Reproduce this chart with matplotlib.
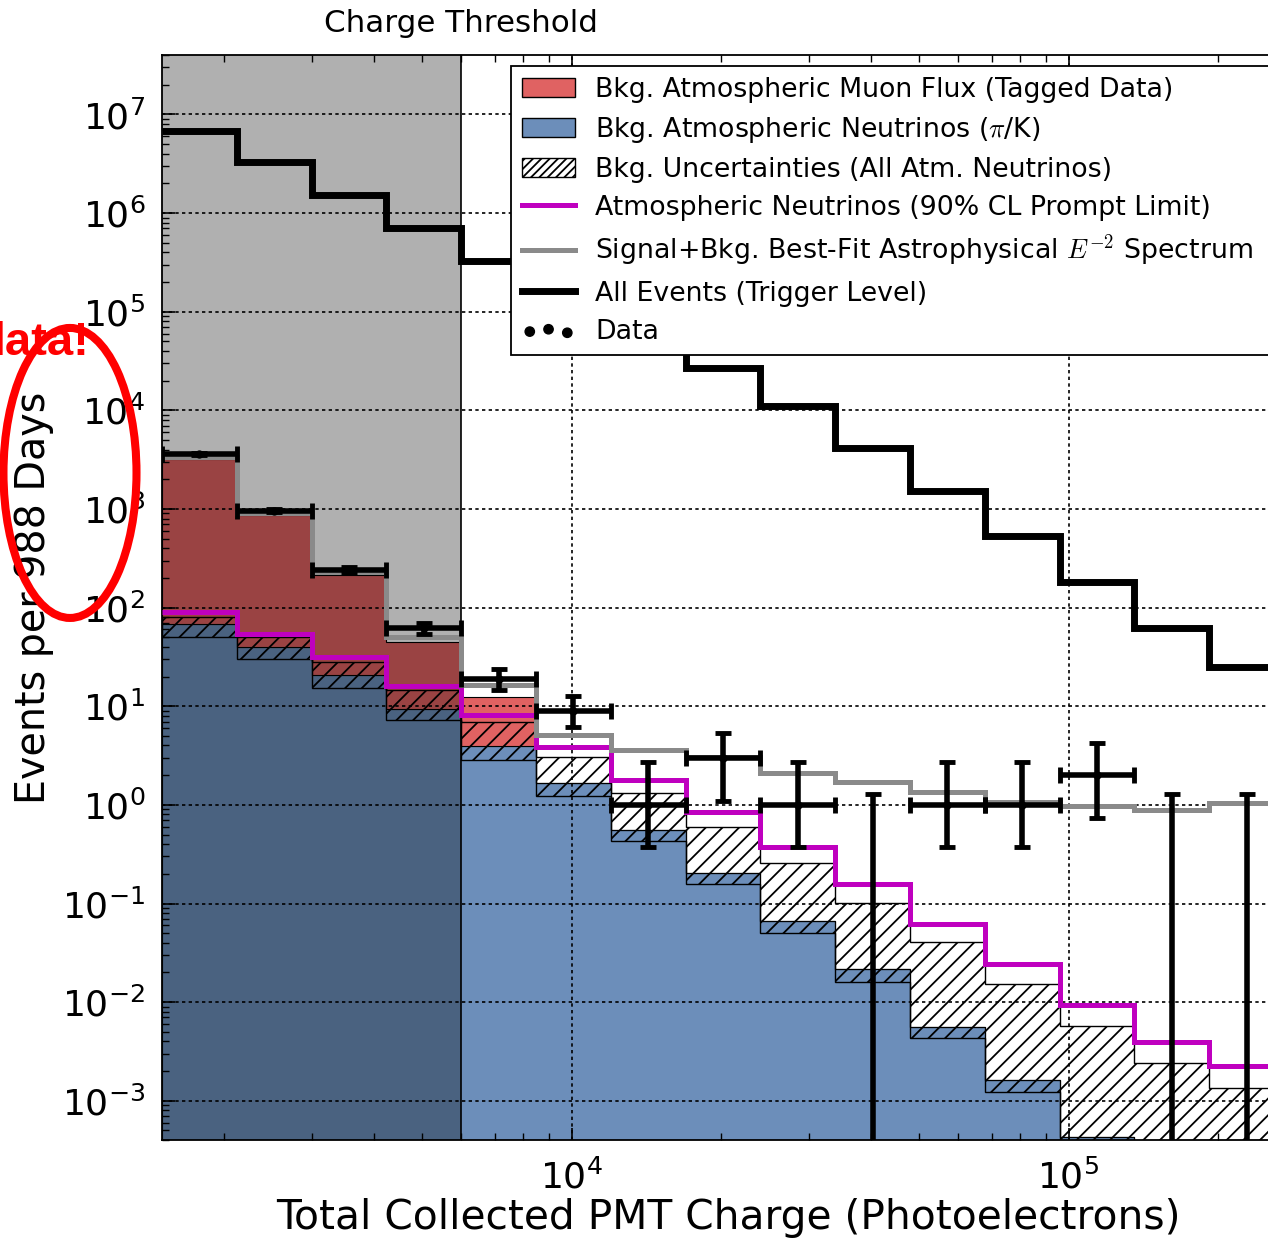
import numpy as np
import matplotlib
matplotlib.use("Agg")
import matplotlib.pyplot as plt
from matplotlib.patches import Patch, Ellipse
from matplotlib.lines import Line2D
from matplotlib.ticker import LogLocator, NullFormatter

plt.rcParams["font.family"] = ["DejaVu Sans"]
plt.rcParams["mathtext.fontset"] = "cm"
plt.rcParams["hatch.linewidth"] = 1.3

# Charge bins (photoelectrons), sqrt(2) spacing
edges = [1500, 2121, 3000, 4243, 6000, 8485, 12000, 16971, 24000,
         33941, 48000, 67882, 96000, 135765, 192000, 271529]
threshold = 6000

# Expectations per bin (events per 988 days)
all_events = [6.84e6, 3.29e6, 1.51e6, 7.06e5, 3.30e5, 1.34e5, 5.93e4, 2.69e4,
              1.11e4, 4.19e3, 1.53e3, 536, 180, 62.8, 24.9]
signal_bkg = [3375, 902, 228, 50, 16.3, 5.07, 3.57, 3.03, 2.09, 1.69, 1.35,
              1.07, 0.97, 0.88, 1.04]
prompt_limit = [91.1, 54.2, 31.9, 16.2, 8.07, 3.86, 1.77, 0.848, 0.375, 0.156,
                0.0619, 0.0245, 0.00941, 0.00397, 0.00226]
atm_nu = [68.4, 39.6, 20.5, 9.44, 3.92, 1.67, 0.562, 0.205, 0.067, 0.0215,
          0.00565, 0.00161, 0.00043, 0.0001, 0.00005]
nu_low = [50.8, 30.3, 15.4, 7.18, 2.88, 1.22, 0.431, 0.157, 0.0508, 0.0161,
          0.00436, 0.00122, 0.00032, 0.00008, 0.00004]
nu_high = [79.8, 50.0, 28.0, 14.7, 6.86, 3.05, 1.32, 0.597, 0.255, 0.101,
           0.0409, 0.0153, 0.00578, 0.00244, 0.00134]
muon = [3154, 822, 196, 35.1, 8.4, 0, 0, 0, 0, 0, 0, 0, 0, 0, 0]

# Observed events and 68% intervals
counts = [3597, 959, 241, 62, 19, 9, 1, 3, 1, 0, 1, 1, 2, 0, 0]
counts_lo = [3537, 928, 225, 54, 14.7, 6.2, 0.37, 1.10, 0.37, 0, 0.37, 0.37,
             0.74, 0, 0]
counts_hi = [3657, 990, 257, 70, 24.0, 12.6, 2.75, 5.30, 2.75, 1.29, 2.75,
             2.75, 4.25, 1.29, 1.29]

red = "#E06262"
blue = "#6C8EBA"
magenta = "#BF00BF"
gray = "#8A8A8A"

fig = plt.figure(figsize=(12.68, 12.42), dpi=100)
ax = fig.add_axes([0.1278, 0.0821, 0.8849, 0.8736])
ax.set_xscale("log")
ax.set_yscale("log")

edges_a = np.array(edges, dtype=float)
nu = np.array(atm_nu)

# stacked backgrounds
ax.stairs(nu, edges_a, baseline=0, fill=True, facecolor=blue,
          edgecolor="k", lw=0.8, zorder=1)
ax.stairs(nu + np.array(muon), edges_a, baseline=nu, fill=True,
          facecolor=red, edgecolor="k", lw=0.8, zorder=1.1)
ax.stairs(nu_high, edges_a, baseline=nu_low, fill=True, facecolor="none",
          edgecolor="k", hatch="//", lw=1, zorder=1.2)

# region below the charge threshold
ax.axvspan(edges[0], threshold, color="k", alpha=0.31, lw=0, zorder=1.5)
ax.axvline(threshold, color="k", lw=1.2, zorder=1.6)
ax.text(threshold, 1.016, "Charge Threshold", transform=ax.get_xaxis_transform(),
        ha="center", va="bottom", fontsize=22.3)

ax.stairs(prompt_limit, edges_a, baseline=None, color=magenta, lw=3.6, zorder=3)
ax.stairs(signal_bkg, edges_a, baseline=None, color=gray, lw=3.6, zorder=3.1)
ax.stairs(all_events, edges_a, baseline=None, color="k", lw=5, zorder=3.2)

centers = np.sqrt(edges_a[:-1] * edges_a[1:])
xerr = [centers - edges_a[:-1], edges_a[1:] - centers]
yerr = [np.array(counts) - np.array(counts_lo), np.array(counts_hi) - np.array(counts)]
ax.errorbar(centers, counts, xerr=xerr, yerr=yerr, fmt="o", color="k", ms=5,
            elinewidth=4, capsize=5.5, capthick=3.5, zorder=4)

ax.set_xlim(edges[0], edges[-1])
ax.set_ylim(4e-4, 4e7)

ax.xaxis.set_major_locator(LogLocator(base=10, numticks=15))
ax.xaxis.set_minor_locator(LogLocator(base=10, subs=np.arange(2, 10), numticks=15))
ax.xaxis.set_minor_formatter(NullFormatter())
ax.yaxis.set_major_locator(LogLocator(base=10, numticks=30))
ax.yaxis.set_minor_locator(LogLocator(base=10, subs=np.arange(2, 10), numticks=30))
ax.yaxis.set_minor_formatter(NullFormatter())
ax.tick_params(which="both", direction="in", top=True, right=True, labelsize=26)
ax.tick_params(which="major", length=9, width=1.2)
ax.tick_params(which="minor", length=5, width=1)
ax.tick_params(axis="x", pad=14)
ax.tick_params(axis="y", pad=12)
for sp in ax.spines.values():
    sp.set_linewidth(1.3)

ax.set_axisbelow(False)
ax.grid(True, which="major", color="k", ls=(0, (2, 2)), lw=1.2)

ax.set_xlabel("Total Collected PMT Charge (Photoelectrons)", fontsize=29.3)
ax.xaxis.set_label_coords(0.5045, -0.053)
ax.set_ylabel("Events per 988 Days", fontsize=28.5, labelpad=6)

handles = [
    Patch(facecolor=red, edgecolor="k", lw=1),
    Patch(facecolor=blue, edgecolor="k", lw=1),
    Patch(facecolor="white", edgecolor="k", hatch="////", lw=1),
    Line2D([], [], color=magenta, lw=3.6),
    Line2D([], [], color=gray, lw=3.6),
    Line2D([], [], color="k", lw=5),
    ax.scatter([], [], s=45, c="k"),
]
labels = [
    "Bkg. Atmospheric Muon Flux (Tagged Data)",
    r"Bkg. Atmospheric Neutrinos ($\pi$/K)",
    "Bkg. Uncertainties (All Atm. Neutrinos)",
    "Atmospheric Neutrinos (90% CL Prompt Limit)",
    r"Signal+Bkg. Best-Fit Astrophysical $E^{-2}$ Spectrum  ",
    "All Events (Trigger Level)",
    "Data",
]
leg = ax.legend(handles, labels, loc="upper left", bbox_to_anchor=(0.311, 0.990),
                borderaxespad=0, fontsize=19.3, fancybox=False, framealpha=1,
                edgecolor="k", handlelength=2.0, handletextpad=0.75,
                labelspacing=0.45, scatterpoints=3)
leg.get_frame().set_linewidth(1.3)
leg.set_zorder(5)

# red mark drawn over the y axis label
fig.add_artist(Ellipse((0.0552, 0.6192), 0.1049, 0.2335, transform=fig.transFigure,
                       fill=False, edgecolor="red", lw=5.8, zorder=6))
fig.text(-0.019, 0.714, "data!", color="red", fontsize=34, fontweight="bold",
         family="Liberation Sans", zorder=6)

fig.savefig("out.png", dpi=100)
